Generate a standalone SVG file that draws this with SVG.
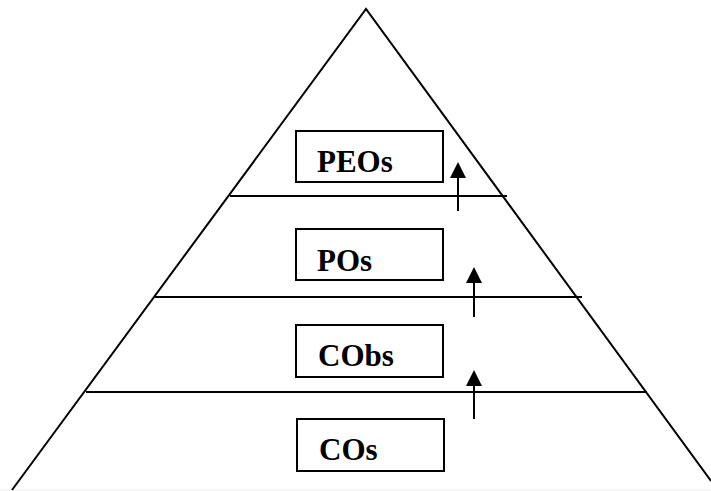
<svg xmlns="http://www.w3.org/2000/svg" width="711" height="491" viewBox="0 0 711 491">
<style>
.ln{stroke:#000;stroke-width:2;fill:none}
.box{fill:#fff;stroke:#000;stroke-width:2}
.lbl{font-family:"Liberation Serif",serif;font-weight:bold;font-size:31px;fill:#000}
</style>
<defs>
<marker id="ah" markerWidth="8" markerHeight="8" refX="0" refY="4" orient="auto" markerUnits="strokeWidth">
<path d="M0,0 L8,4 L0,8 z" fill="#000"/>
</marker>
</defs>
<rect width="711" height="491" fill="#fff"/>
<line x1="0" y1="490" x2="711" y2="490" stroke="#eeeeee" stroke-width="1"/>
<g id="pyramid">
<polyline class="ln" points="12,490 366,9 711,481"/>
<line class="ln" x1="230" y1="196" x2="507" y2="196"/>
<line class="ln" x1="155" y1="297" x2="582" y2="297"/>
<line class="ln" x1="86" y1="392" x2="647" y2="392"/>
</g>
<g id="peos"><rect class="box" x="296" y="131" width="147" height="51"/><text class="lbl" x="317" y="172">PEOs</text></g>
<g id="pos"><rect class="box" x="296" y="229" width="147" height="51"/><text class="lbl" x="317" y="271">POs</text></g>
<g id="cobs"><rect class="box" x="296" y="325" width="147" height="52"/><text class="lbl" x="318" y="366">CObs</text></g>
<g id="cos"><rect class="box" x="297" y="419" width="147" height="52"/><text class="lbl" x="319" y="460">COs</text></g>
<g id="connectors">
<line class="ln" x1="458" y1="211" x2="458" y2="178" marker-end="url(#ah)"/>
<line class="ln" x1="474" y1="317" x2="474" y2="283" marker-end="url(#ah)"/>
<line class="ln" x1="474" y1="419" x2="474" y2="386" marker-end="url(#ah)"/>
</g>
</svg>
